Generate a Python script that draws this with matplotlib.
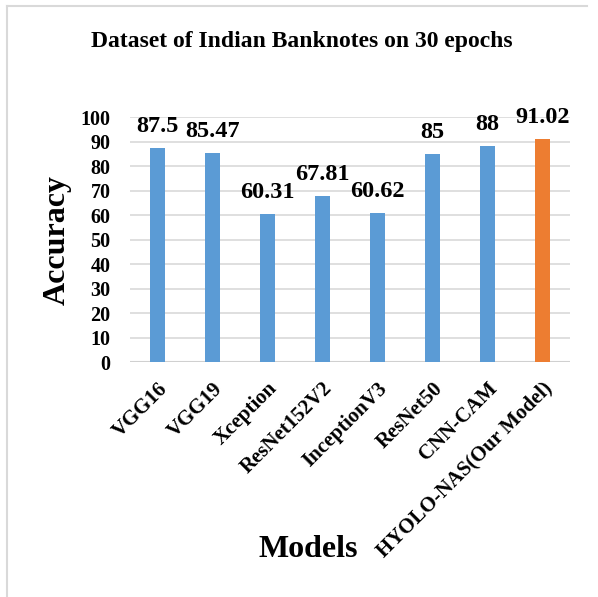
import matplotlib.pyplot as plt
from matplotlib.lines import Line2D

models = ['VGG16', 'VGG19', 'Xception', 'ResNet152V2', 'InceptionV3',
          'ResNet50', 'CNN-CAM', 'HYOLO-NAS(Our Model)']
accuracy = [87.5, 85.47, 60.31, 67.81, 60.62, 85, 88, 91.02]
labels = ['87.5', '85.47', '60.31', '67.81', '60.62', '85', '88', '91.02']
colors = ['#5B9BD5'] * 7 + ['#ED7D31']

plt.rcParams['font.family'] = ['Liberation Serif', 'DejaVu Serif']
plt.rcParams['font.weight'] = 'bold'

fig = plt.figure(figsize=(5.98, 5.97), dpi=100)
ax = fig.add_axes([0.2174, 0.3936, 0.7358, 0.4104])

x = range(len(models))
bars = ax.bar(x, accuracy, width=0.29, color=colors, zorder=3)
for b, lab in zip(bars, labels):
    ax.text(b.get_x() + b.get_width() / 2, b.get_height() + 4.5, lab,
            ha='center', va='bottom', fontsize=17.5, fontweight='bold',
            clip_on=False)

ax.set_xlim(-0.5, len(models) - 0.5)
ax.set_ylim(0, 100)
ax.set_yticks(range(0, 101, 10))
ax.yaxis.grid(True, color='#D9D9D9', lw=1.2, zorder=0)
ax.set_axisbelow(True)
for s in ax.spines.values():
    s.set_visible(False)
ax.axhline(0, color='#D0D0D0', lw=1.5, zorder=1)
ax.tick_params(length=0)
ax.tick_params(axis='y', labelsize=14.5, pad=14)
ax.tick_params(axis='x', pad=12)
ax.set_xticks(list(x))
ax.set_xticklabels(models, rotation=45, ha='right', rotation_mode='anchor',
                   fontsize=15, fontweight='bold')
for t in ax.get_yticklabels():
    t.set_fontweight('bold')

fig.text(0.505, 0.93, 'Dataset of Indian Banknotes on 30 epochs',
         ha='center', va='center', fontsize=17, fontweight='bold')
fig.text(0.096, 0.598, 'Accuracy', rotation=90, ha='center', va='center',
         fontsize=23, fontweight='bold')
fig.text(0.515, 0.080, 'Models', ha='center', va='center',
         fontsize=23, fontweight='bold')

# light frame like the original chart box
fig.add_artist(Line2D([0.0117, 0.0117], [0.0, 0.99], color='#D9D9D9', lw=1.5))
fig.add_artist(Line2D([0.0117, 0.982], [0.99, 0.99], color='#D9D9D9', lw=1.5))

fig.savefig('out.png', dpi=100)
